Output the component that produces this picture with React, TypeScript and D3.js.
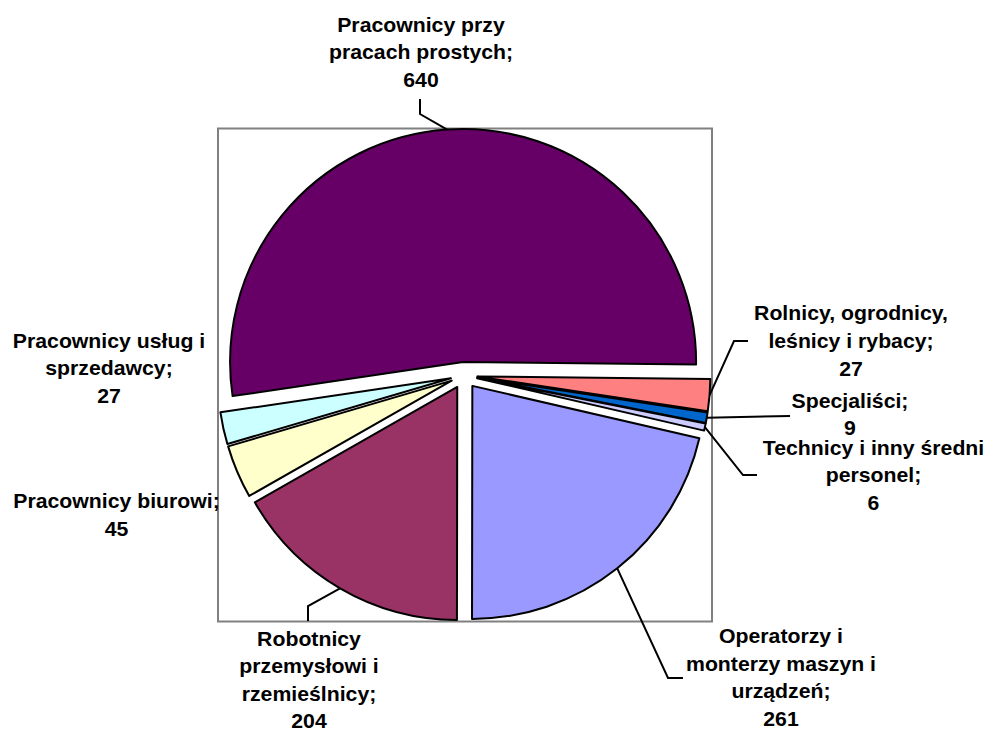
import React from "react";
import * as d3 from "d3";

// Data (Excel series order, clockwise from the first-slice angle)
const categories = [
  "Operatorzy i monterzy maszyn i urządzeń",
  "Robotnicy przemysłowi i rzemieślnicy",
  "Pracownicy biurowi",
  "Pracownicy usług i sprzedawcy",
  "Pracownicy przy pracach prostych",
  "Rolnicy, ogrodnicy, leśnicy i rybacy",
  "Specjaliści",
  "Technicy i inny średni personel",
];
const values = [261, 204, 45, 27, 640, 27, 9, 6];
const colors = ["#9999FF", "#993366", "#FFFFCC", "#CCFFFF", "#660066", "#FF8080", "#0066CC", "#CCCCFF"];
const labelLines = [
  ["Operatorzy i", "monterzy maszyn i", "urządzeń;", "261"],
  ["Robotnicy", "przemysłowi i", "rzemieślnicy;", "204"],
  ["Pracownicy biurowi;", "45"],
  ["Pracownicy usług i", "sprzedawcy;", "27"],
  ["Pracownicy przy", "pracach prostych;", "640"],
  ["Rolnicy, ogrodnicy,", "leśnicy i rybacy;", "27"],
  ["Specjaliści;", "9"],
  ["Technicy i inny średni", "personel;", "6"],
];

// Layout
const W = 986;
const H = 731;
const CX = 464;
const CY = 375.4;
const R = 233;
const EXPLODE = 13.4;
const FIRST_ANGLE_DEG = 103;
const FONT = 19.5;
const SX = 1.09;

// label positions: center x, first baseline, line step, leader elbow points (null = none)
const labelLayout: { x: number; y: number; step: number; leader: [number, number][] | null }[] = [
  { x: 781, y: 643.5, step: 27.5, leader: [[668, 678], [683, 678]] },
  { x: 309, y: 646, step: 27.3, leader: [[308, 606], [308, 621]] },
  { x: 116.5, y: 508, step: 28, leader: null },
  { x: 109, y: 348, step: 27.5, leader: null },
  { x: 421, y: 32, step: 27.5, leader: [[420, 114], [420, 99]] },
  { x: 851, y: 320, step: 28, leader: [[734, 341], [748, 341]] },
  { x: 850, y: 408, step: 27, leader: [[790, 416]] },
  { x: 873.5, y: 455, step: 27.5, leader: [[743, 475], [757, 475]] },
];

export default function App() {
  const data = values.map((v, i) => ({ v, i }));
  const start = (FIRST_ANGLE_DEG * Math.PI) / 180;
  const pie = d3
    .pie<{ v: number; i: number }>()
    .value((d) => d.v)
    .sort(null)
    .startAngle(start)
    .endAngle(start + 2 * Math.PI);
  const arcs = pie(data);
  const arcGen = d3.arc<d3.PieArcDatum<{ v: number; i: number }>>().innerRadius(0).outerRadius(R);

  return (
    <svg
      width={W}
      height={H}
      style={{ position: "absolute", left: 0, top: 0, background: "#fff" }}
      fontFamily="'Liberation Sans', Arial, sans-serif"
    >
      <rect x={0} y={0} width={W} height={H} fill="#fff" />
      <rect x={218} y={128.5} width={494} height={493} fill="none" stroke="#808080" strokeWidth={2} />
      {arcs.map((a) => {
        const mid = (a.startAngle + a.endAngle) / 2;
        const ox = CX + EXPLODE * Math.sin(mid);
        const oy = CY - EXPLODE * Math.cos(mid);
        return (
          <path
            key={a.data.i}
            d={arcGen(a) || ""}
            transform={`translate(${ox},${oy})`}
            fill={colors[a.data.i]}
            stroke="#000"
            strokeWidth={2}
            strokeLinejoin="round"
          />
        );
      })}
      {arcs.map((a) => {
        const lay = labelLayout[a.data.i];
        if (!lay.leader) return null;
        const mid = (a.startAngle + a.endAngle) / 2;
        const px = CX + (EXPLODE + R) * Math.sin(mid);
        const py = CY - (EXPLODE + R) * Math.cos(mid);
        const pts: [number, number][] = [[px, py], ...lay.leader];
        return (
          <path
            key={"l" + a.data.i}
            d={d3.line()(pts) || ""}
            fill="none"
            stroke="#000"
            strokeWidth={2}
          />
        );
      })}
      {labelLines.map((lines, i) => {
        const lay = labelLayout[i];
        return (
          <g key={"t" + i} transform={`translate(${lay.x},0) scale(${SX},1)`}>
            <text textAnchor="middle" fontWeight="bold" fontSize={FONT} fill="#000">
              {lines.map((ln, j) => (
                <tspan key={j} x={0} y={lay.y + j * lay.step}>
                  {ln}
                </tspan>
              ))}
            </text>
          </g>
        );
      })}
    </svg>
  );
}
